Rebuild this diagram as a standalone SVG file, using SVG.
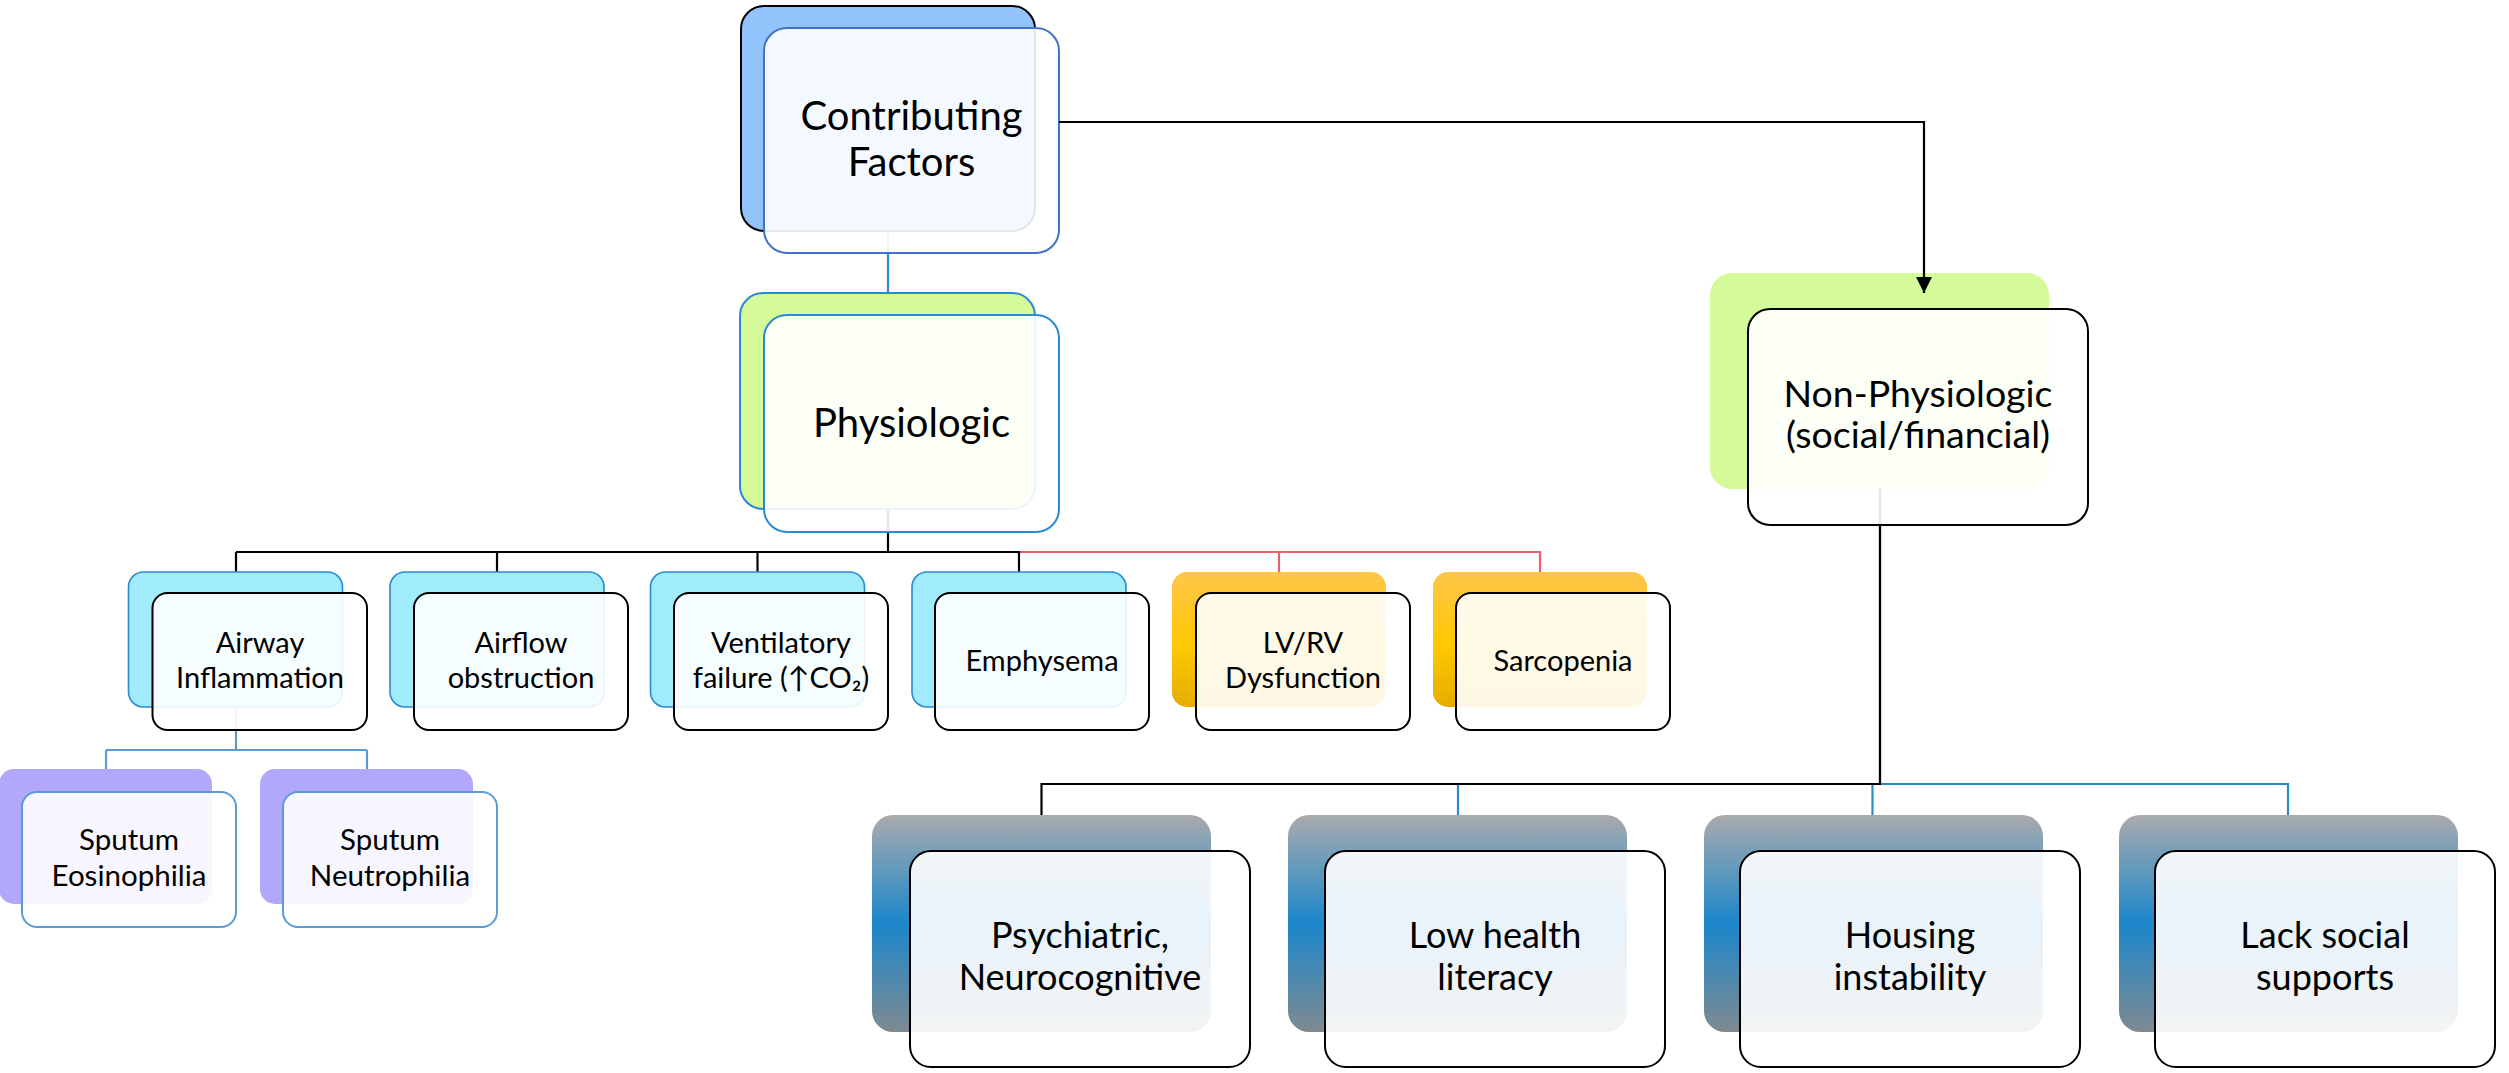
<svg xmlns="http://www.w3.org/2000/svg" width="2509" height="1073" viewBox="0 0 2509 1073">
<defs>
<linearGradient id="gOrange" x1="0" y1="0" x2="0" y2="1">
<stop offset="0" stop-color="#fec64c"/>
<stop offset="0.55" stop-color="#ffc800"/>
<stop offset="1" stop-color="#e3ad00"/>
</linearGradient>
<linearGradient id="gSteel" x1="0" y1="0" x2="0" y2="1">
<stop offset="0" stop-color="#a9abad"/>
<stop offset="0.5" stop-color="#1b87cb"/>
<stop offset="1" stop-color="#7f8a91"/>
</linearGradient>
<marker id="arr" markerUnits="userSpaceOnUse" markerWidth="16" markerHeight="16" viewBox="0 0 16 16" refX="16" refY="8" orient="auto">
<path d="M0,0 L16,8 L0,16 Z" fill="#000"/>
</marker>
</defs>
<style>
text{font-family:Lato,"Open Sans","Liberation Sans",sans-serif;fill:#000;text-anchor:middle}
.front{fill:#fff;fill-opacity:0.9;stroke:#000;stroke-width:2}
.c{fill:none;stroke-width:2.2}
.k{stroke:#000}
.b{stroke:#2a8ad0}
.lb{stroke:#5b9bd5}
.r{stroke:#e8626a}
.t1{font-size:40px}
.t2{font-size:37.5px}
.t3{font-size:29px}
.t5{font-size:29.5px}
.t4{font-size:36px}
</style>
<rect width="2509" height="1073" fill="#fff"/>
<g id="connectors">
<path class="c b" d="M888,231 V293"/>
<path class="c r" d="M1019,552 H1540 V572 M1279,552 V572"/>
<path class="c k" d="M888,509 V552 M236,552 H1019 V572 M236,552 V572 M497,552 V572 M757.5,552 V572"/>
<path class="c lb" d="M236,707 V750 M106,750 H367 M106,750 V769 M367,750 V769"/>
<path class="c b" d="M1880,489 V784 H2288 V815 M1872.5,784 V815 M1458,784 V815"/>
<path class="c k" d="M1880,489 V784 H1041.5 V815"/>
</g>
<g id="n-contributing">
<rect x="741" y="6" width="294" height="225" rx="23" fill="#93c3fb" stroke="#000" stroke-width="2"/>
<rect class="front" x="764" y="28" width="295" height="225" rx="23" style="stroke:#4472c4"/>
<text class="t1" x="911.5" y="130">Contributing</text>
<text class="t1" x="911.5" y="175.5">Factors</text>
</g>
<g id="n-physiologic">
<rect x="740" y="293" width="295" height="216" rx="23" fill="#d5fa9a" stroke="#2a8ad0" stroke-width="2"/>
<rect class="front" x="764" y="315" width="295" height="217" rx="23" style="stroke:#2a8ad0"/>
<text class="t1" x="911.5" y="436.5">Physiologic</text>
</g>
<g id="n-nonphysiologic">
<rect x="1710" y="273" width="339" height="216" rx="22" fill="#d5fa9a"/>
<rect class="front" x="1748" y="309" width="340" height="216" rx="22"/>
<text class="t2" x="1918" y="407">Non-Physiologic</text>
<text class="t2" x="1918" y="448">(social/financial)</text>
</g>
<g id="n-airway">
<rect x="128.5" y="572" width="214" height="135" rx="15" fill="#a0ebfc" stroke="#2a8ad0" stroke-width="1.6"/>
<rect class="front" x="152.5" y="593" width="214.5" height="137" rx="15"/>
<text class="t3" x="260" y="653">Airway</text>
<text class="t3" x="260" y="688">Inflammation</text>
</g>
<g id="n-airflow">
<rect x="390" y="572" width="214" height="135" rx="15" fill="#a0ebfc" stroke="#2a8ad0" stroke-width="1.6"/>
<rect class="front" x="414" y="593" width="214" height="137" rx="15"/>
<text class="t3" x="521" y="653">Airflow</text>
<text class="t3" x="521" y="688">obstruction</text>
</g>
<g id="n-ventilatory">
<rect x="650.5" y="572" width="214" height="135" rx="15" fill="#a0ebfc" stroke="#2a8ad0" stroke-width="1.6"/>
<rect class="front" x="674" y="593" width="214" height="137" rx="15"/>
<text class="t3" x="781" y="653">Ventilatory</text>
<text class="t3" x="781" y="688">failure (↑CO₂)</text>
</g>
<g id="n-emphysema">
<rect x="912" y="572" width="214" height="135" rx="15" fill="#a0ebfc" stroke="#2a8ad0" stroke-width="1.6"/>
<rect class="front" x="935" y="593" width="214" height="137" rx="15"/>
<text class="t3" x="1042" y="671">Emphysema</text>
</g>
<g id="n-lvrv">
<rect x="1172" y="572" width="214" height="135" rx="15" fill="url(#gOrange)"/>
<rect class="front" x="1196" y="593" width="214" height="137" rx="15"/>
<text class="t3" x="1303" y="653">LV/RV</text>
<text class="t3" x="1303" y="688">Dysfunction</text>
</g>
<g id="n-sarcopenia">
<rect x="1433" y="572" width="214" height="135" rx="15" fill="url(#gOrange)"/>
<rect class="front" x="1456" y="593" width="214" height="137" rx="15"/>
<text class="t3" x="1563" y="671">Sarcopenia</text>
</g>
<g id="n-eosinophilia">
<rect x="-1" y="769" width="213" height="135" rx="15" fill="#b1a7fb"/>
<rect class="front" x="22" y="792" width="214" height="135" rx="15" style="stroke:#5b9bd5"/>
<text class="t5" x="129" y="850">Sputum</text>
<text class="t5" x="129" y="886">Eosinophilia</text>
</g>
<g id="n-neutrophilia">
<rect x="260" y="769" width="213" height="135" rx="15" fill="#b1a7fb"/>
<rect class="front" x="283" y="792" width="214" height="135" rx="15" style="stroke:#5b9bd5"/>
<text class="t5" x="390" y="850">Sputum</text>
<text class="t5" x="390" y="886">Neutrophilia</text>
</g>
<g id="n-psychiatric">
<rect x="872" y="815" width="339" height="217" rx="21" fill="url(#gSteel)"/>
<rect class="front" x="910" y="851" width="340" height="216" rx="21"/>
<text class="t4" x="1080" y="948">Psychiatric,</text>
<text class="t4" x="1080" y="990">Neurocognitive</text>
</g>
<g id="n-literacy">
<rect x="1288" y="815" width="339" height="217" rx="21" fill="url(#gSteel)"/>
<rect class="front" x="1325" y="851" width="340" height="216" rx="21"/>
<text class="t4" x="1495" y="948">Low health</text>
<text class="t4" x="1495" y="990">literacy</text>
</g>
<g id="n-housing">
<rect x="1704" y="815" width="339" height="217" rx="21" fill="url(#gSteel)"/>
<rect class="front" x="1740" y="851" width="340" height="216" rx="21"/>
<text class="t4" x="1910" y="948">Housing</text>
<text class="t4" x="1910" y="990">instability</text>
</g>
<g id="n-social">
<rect x="2119" y="815" width="339" height="217" rx="21" fill="url(#gSteel)"/>
<rect class="front" x="2155" y="851" width="340" height="216" rx="21"/>
<text class="t4" x="2325" y="948">Lack social</text>
<text class="t4" x="2325" y="990">supports</text>
</g>
<g id="connectors-top">
<path class="c k" d="M1059,122 H1924 V293" marker-end="url(#arr)"/>
</g>
</svg>
